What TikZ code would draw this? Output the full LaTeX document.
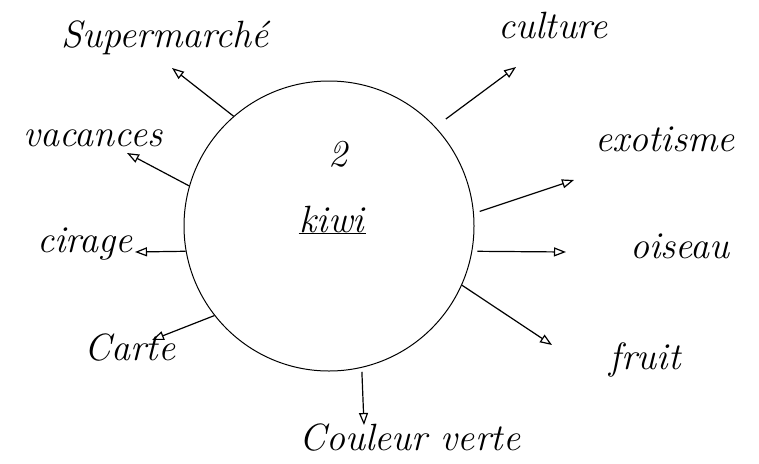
\documentclass[tikz,border=0pt]{standalone}
\usepackage{tikz}
\usetikzlibrary{arrows.meta}
\tikzset{
  bubble/.style={circle,draw,line width=1pt,minimum size=290pt,inner sep=0pt},
  word/.style={font=\fontsize{38}{40}\selectfont\itshape,inner sep=1pt},
  assoc/.style={-{Triangle[open,length=12pt,width=9pt]},line width=1.2pt}
}

\begin{document}
\begin{tikzpicture}[x=1pt,y=-1pt]
  \useasboundingbox (0,0) rectangle (759,463);
  % central circle
  \node[bubble] (kiwi) at (329,226) {};
  \node[word] (two) at (338,154) {2};
  \node[word] (kiwiword) at (332,219) {kiwi};
  \draw[line width=1.2pt] (kiwiword.south west) -- (kiwiword.south east);
  % associated words
  \node[word] (sup) at (165,38) {Supermarché};
  \node[word] (cult) at (553,26) {culture};
  \node[word] (vac) at (93,138) {vacances};
  \node[word] (exo) at (665,139) {exotisme};
  \node[word] (cir) at (85,244) {cirage};
  \node[word] (ois) at (680,246) {oiseau};
  \node[word] (carte) at (130,348) {Carte};
  \node[word] (fruit) at (645,360) {fruit};
  \node[word] (coul) at (410,438) {Couleur verte};
  % arrow tips
  \coordinate (supTip) at (172,68);
  \coordinate (cultTip) at (516,67);
  \coordinate (vacTip) at (127,153);
  \coordinate (exoTip) at (574,180);
  \coordinate (cirTip) at (135,252);
  \coordinate (oisTip) at (566,252);
  \coordinate (carteTip) at (152,340);
  \coordinate (fruitTip) at (552,345);
  \coordinate (coulTip) at (364,425);
  % connectors
  \draw[assoc] (kiwi.131) -- (supTip);
  \draw[assoc,shorten <=13pt] (kiwi.43) -- (cultTip);
  \draw[assoc] (kiwi.164) -- (vacTip);
  \draw[assoc,shorten <=6pt] (kiwi.5) -- (exoTip);
  \draw[assoc] (kiwi.190) -- (cirTip);
  \draw[assoc,shorten <=5pt] (kiwi.350) -- (oisTip);
  \draw[assoc] (kiwi.218) -- (carteTip);
  \draw[assoc] (kiwi.336) -- (fruitTip);
  \draw[assoc,shorten <=4pt] (kiwi.283) -- (coulTip);
\end{tikzpicture}
\end{document}
